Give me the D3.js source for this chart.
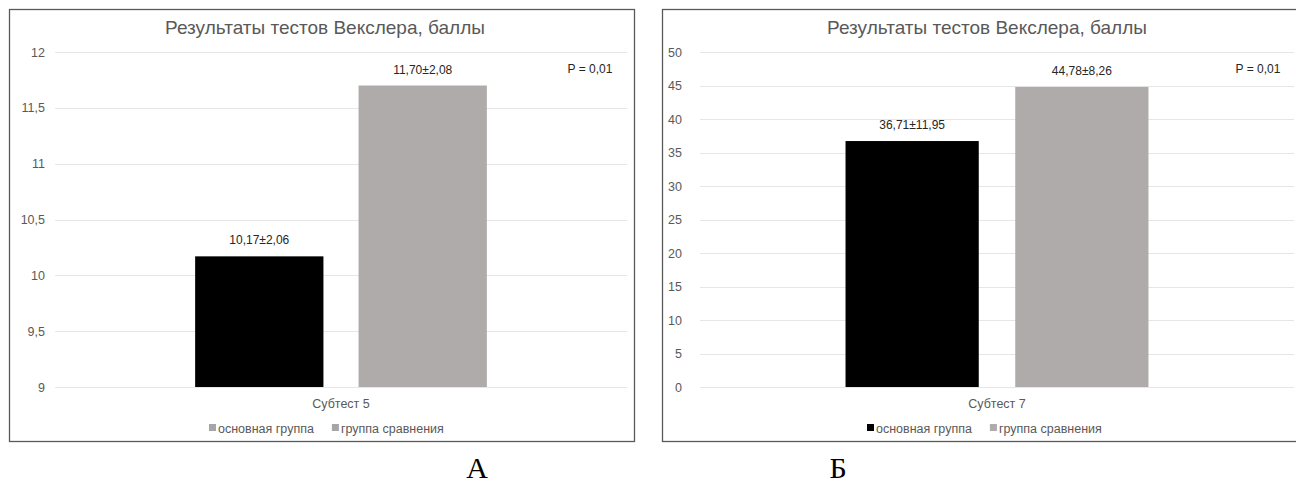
<!DOCTYPE html>
<html><head><meta charset="utf-8">
<script src="https://cdn.jsdelivr.net/npm/d3@7"></script>
<style>
html,body{margin:0;padding:0;background:#fff;}
svg{display:block;}
text{font-family:"Liberation Sans",Arial,sans-serif;}
</style></head>
<body>
<svg id="c" width="1296" height="483"></svg>
<script>
// ---- data ----
const chartTitle = "Результаты тестов Векслера, баллы";
const groups = ["основная группа", "группа сравнения"];
const categoriesA = ["Субтест 5"];
const valuesA = [10.17, 11.70];
const labelsA = ["10,17±2,06", "11,70±2,08"];
const ticksA = [9, 9.5, 10, 10.5, 11, 11.5, 12];
const tickLabelsA = ["9", "9,5", "10", "10,5", "11", "11,5", "12"];
const pA = "P = 0,01";
const categoriesB = ["Субтест 7"];
const valuesB = [36.71, 44.78];
const labelsB = ["36,71±11,95", "44,78±8,26"];
const ticksB = [0, 5, 10, 15, 20, 25, 30, 35, 40, 45, 50];
const tickLabelsB = ["0", "5", "10", "15", "20", "25", "30", "35", "40", "45", "50"];
const pB = "P = 0,01";
const panelLetters = ["А", "Б"];

// ---- layout ----
const svg = d3.select("#c");
const barColors = ["#000000", "#afabab"];
const panels = [
  {frame:[9.5, 9.5, 625, 432], x0:55, x1:627, yTop:52, yBot:387, titleX:325, labelX:45,
   cats:categoriesA, vals:valuesA, labels:labelsA, ticks:ticksA, tickLabels:tickLabelsA,
   domain:[9,12], p:pA, pX:590, legendColors:["#a6a6a6","#a6a6a6"], legendX:209, letter:panelLetters[0], letterX:477},
  {frame:[662.5, 9.5, 660, 432], x0:700, x1:1294, yTop:52, yBot:387, titleX:987, labelX:682,
   cats:categoriesB, vals:valuesB, labels:labelsB, ticks:ticksB, tickLabels:tickLabelsB,
   domain:[0,50], p:pB, pX:1258, legendColors:["#000000","#afabab"], legendX:867, letter:panelLetters[1], letterX:838}
];

panels.forEach(P => {
  const g = svg.append("g");
  const [fx, fy, fw, fh] = P.frame;
  g.append("rect").attr("x", fx).attr("y", fy).attr("width", fw).attr("height", fh)
    .attr("fill", "#fff").attr("stroke", "#5a5a5a").attr("stroke-width", 1.3);

  const y = d3.scaleLinear().domain(P.domain).range([P.yBot, P.yTop]);
  const x = d3.scaleBand().domain(P.cats).range([P.x0, P.x1]).paddingInner(0).paddingOuter(0);
  const gw = x.bandwidth() * 0.51;
  const xg = d3.scaleBand().domain(groups)
    .range([x(P.cats[0]) + x.bandwidth()/2 - gw/2, x(P.cats[0]) + x.bandwidth()/2 + gw/2])
    .paddingInner(0.215).paddingOuter(0);

  // gridlines
  g.selectAll(".grid").data(P.ticks).enter().append("line")
    .attr("x1", P.x0).attr("x2", P.x1)
    .attr("y1", d => Math.round(y(d)) + 0.5).attr("y2", d => Math.round(y(d)) + 0.5)
    .attr("stroke", "#e6e6e6").attr("stroke-width", 1);

  // y axis labels via d3 axis
  const ax = g.append("g").attr("transform", `translate(${P.labelX},0)`)
    .call(d3.axisLeft(y).tickValues(P.ticks).tickSize(0).tickPadding(0)
      .tickFormat((d, i) => P.tickLabels[i]));
  ax.select(".domain").remove();
  ax.selectAll("text").attr("fill", "#595959").attr("font-size", 12.5)
    .attr("font-family", "'Liberation Sans', Arial, sans-serif");

  // bars
  g.selectAll(".bar").data(P.vals).enter().append("rect")
    .attr("x", (d, i) => xg(groups[i]))
    .attr("width", xg.bandwidth())
    .attr("y", d => y(d))
    .attr("height", d => y(P.domain[0]) - y(d))
    .attr("fill", (d, i) => barColors[i]);

  // data labels
  g.selectAll(".dl").data(P.vals).enter().append("text")
    .attr("x", (d, i) => xg(groups[i]) + xg.bandwidth()/2)
    .attr("y", d => y(d) - 12)
    .attr("text-anchor", "middle").attr("font-size", 12).attr("fill", "#262626")
    .text((d, i) => P.labels[i]);

  // title
  g.append("text").attr("x", P.titleX).attr("y", 34).attr("text-anchor", "middle")
    .attr("font-size", 19).attr("fill", "#595959").text(chartTitle);

  // P value
  g.append("text").attr("x", P.pX).attr("y", 73).attr("text-anchor", "middle")
    .attr("font-size", 12).attr("fill", "#262626").text(P.p);

  // category label
  g.append("text").attr("x", x(P.cats[0]) + x.bandwidth()/2).attr("y", 408)
    .attr("text-anchor", "middle").attr("font-size", 12.5).attr("fill", "#595959").text(P.cats[0]);

  // legend
  const lg = g.append("g").attr("transform", `translate(${P.legendX},428)`);
  let cx = 0;
  groups.forEach((name, i) => {
    lg.append("rect").attr("x", cx).attr("y", -4).attr("width", 7).attr("height", 7)
      .attr("fill", P.legendColors[i]);
    const t = lg.append("text").attr("x", cx + 9).attr("y", 4.5).attr("font-size", 12.5)
      .attr("fill", "#595959").text(name);
    cx += 9 + t.node().getComputedTextLength() + 18;
  });

  // panel letter
  svg.append("text").attr("x", P.letterX).attr("y", 478).attr("text-anchor", "middle")
    .style("font-family", "'Liberation Serif','Times New Roman',serif")
    .attr("font-size", 30).attr("fill", "#000").text(P.letter);
});
</script>
</body></html>
